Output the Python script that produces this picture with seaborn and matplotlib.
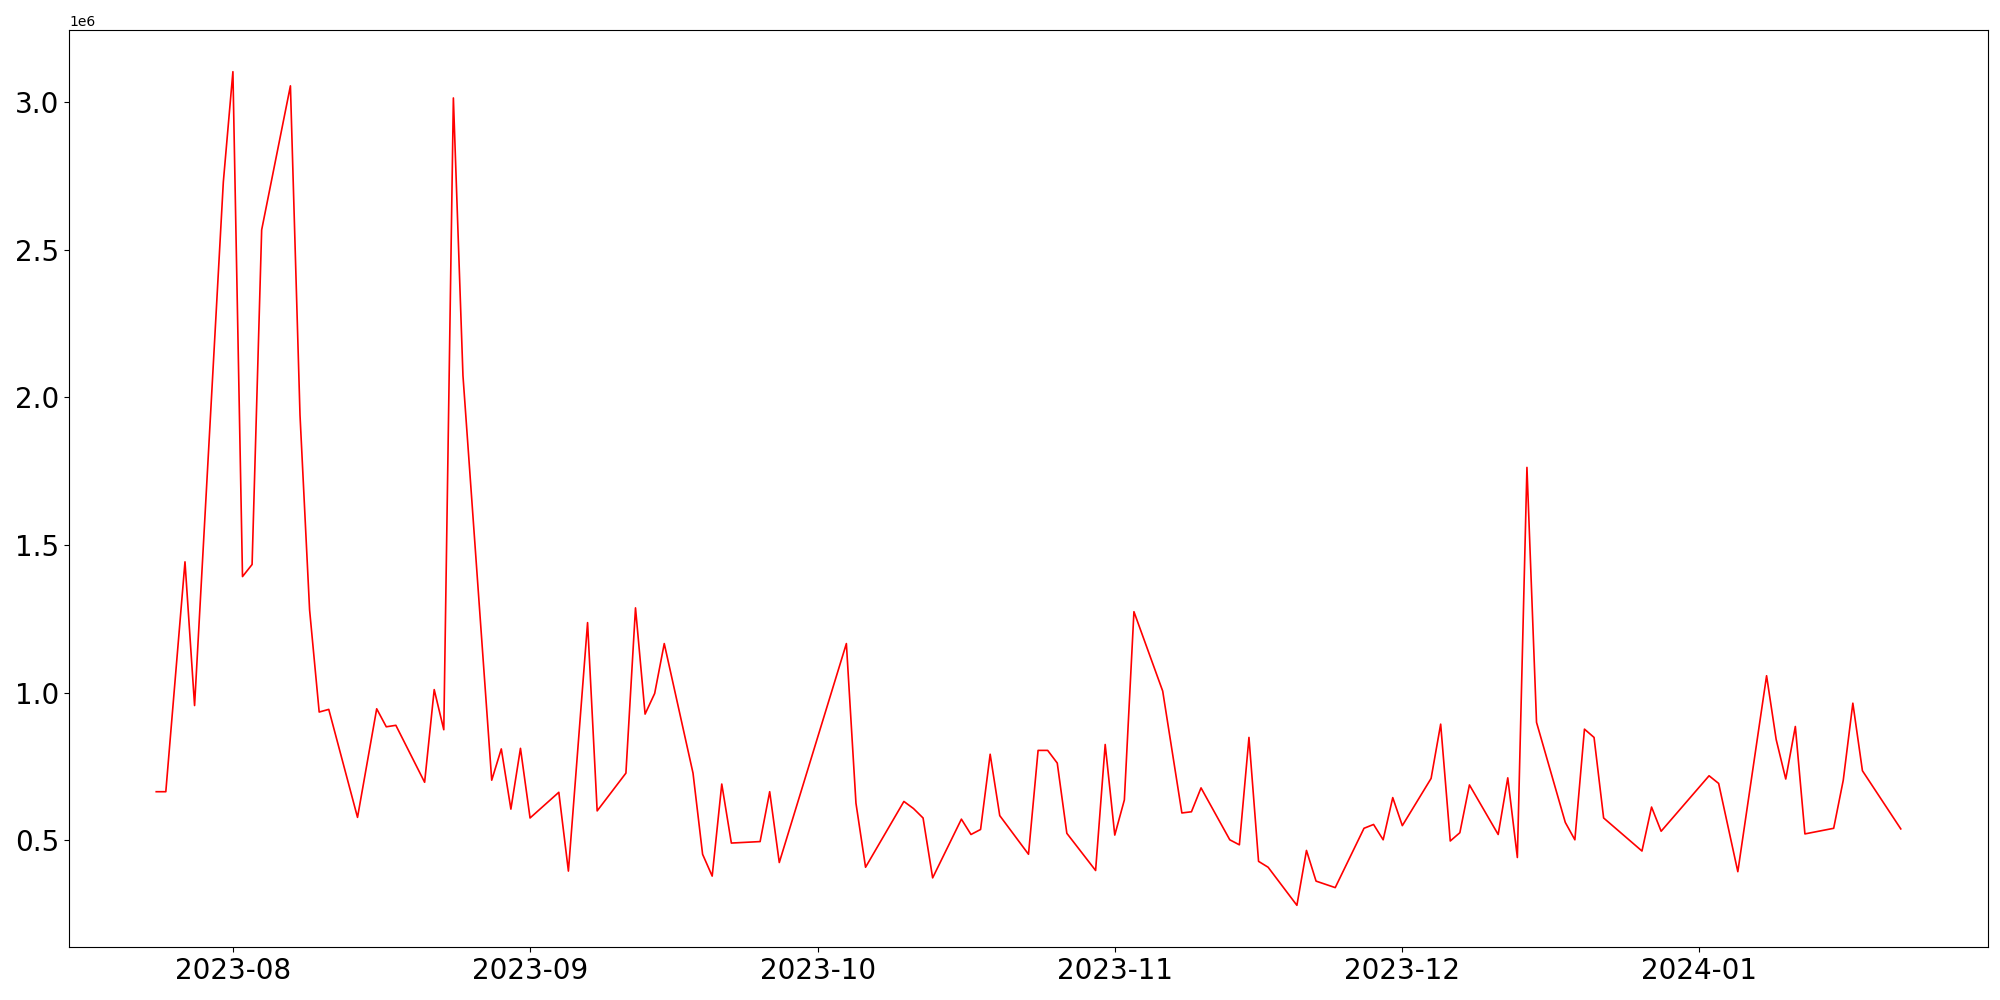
import pandas as pd
import matplotlib.pyplot as plt
import seaborn as sns

# daily values (gaps = missing days)
dates = ["2023-07-24", "2023-07-25", "2023-07-27", "2023-07-28", "2023-07-31",
         "2023-08-01", "2023-08-02", "2023-08-03", "2023-08-04", "2023-08-07",
         "2023-08-08", "2023-08-09", "2023-08-10", "2023-08-11", "2023-08-14",
         "2023-08-16", "2023-08-17", "2023-08-18", "2023-08-21", "2023-08-22",
         "2023-08-23", "2023-08-24", "2023-08-25", "2023-08-28", "2023-08-29",
         "2023-08-30", "2023-08-31", "2023-09-01", "2023-09-04", "2023-09-05",
         "2023-09-07", "2023-09-08", "2023-09-11", "2023-09-12", "2023-09-13",
         "2023-09-14", "2023-09-15", "2023-09-18", "2023-09-19", "2023-09-20",
         "2023-09-21", "2023-09-22", "2023-09-25", "2023-09-26", "2023-09-27",
         "2023-10-04", "2023-10-05", "2023-10-06", "2023-10-10", "2023-10-11",
         "2023-10-12", "2023-10-13", "2023-10-16", "2023-10-17", "2023-10-18",
         "2023-10-19", "2023-10-20", "2023-10-23", "2023-10-24", "2023-10-25",
         "2023-10-26", "2023-10-27", "2023-10-30", "2023-10-31", "2023-11-01",
         "2023-11-02", "2023-11-03", "2023-11-06", "2023-11-08", "2023-11-09",
         "2023-11-10", "2023-11-13", "2023-11-14", "2023-11-15", "2023-11-16",
         "2023-11-17", "2023-11-20", "2023-11-21", "2023-11-22", "2023-11-24",
         "2023-11-27", "2023-11-28", "2023-11-29", "2023-11-30", "2023-12-01",
         "2023-12-04", "2023-12-05", "2023-12-06", "2023-12-07", "2023-12-08",
         "2023-12-11", "2023-12-12", "2023-12-13", "2023-12-14", "2023-12-15",
         "2023-12-18", "2023-12-19", "2023-12-20", "2023-12-21", "2023-12-22",
         "2023-12-26", "2023-12-27", "2023-12-28", "2024-01-02", "2024-01-03",
         "2024-01-05", "2024-01-08", "2024-01-09", "2024-01-10", "2024-01-11",
         "2024-01-12", "2024-01-15", "2024-01-16", "2024-01-17", "2024-01-18",
         "2024-01-22"]

values = [664000, 664000, 1443000, 956000, 2730000,
          3104000, 1393000, 1434000, 2568000, 3056000,
          1940000, 1280000, 934000, 943000, 577000,
          945000, 884000, 889000, 696000, 1010000,
          874000, 3015000, 2074000, 703000, 809000,
          605000, 811000, 575000, 662000, 395000,
          1237000, 599000, 727000, 1287000, 927000,
          997000, 1166000, 727000, 452000, 378000,
          690000, 490000, 495000, 664000, 424000,
          1166000, 625000, 408000, 631000, 607000,
          575000, 372000, 571000, 519000, 536000,
          791000, 583000, 452000, 804000, 804000,
          761000, 523000, 397000, 824000, 517000,
          636000, 1274000, 1005000, 592000, 596000,
          677000, 501000, 484000, 848000, 428000,
          408000, 279000, 465000, 361000, 339000,
          540000, 553000, 501000, 644000, 549000,
          709000, 893000, 497000, 525000, 687000,
          519000, 711000, 441000, 1763000, 899000,
          560000, 501000, 876000, 848000, 575000,
          463000, 612000, 530000, 718000, 692000,
          393000, 1057000, 841000, 707000, 885000,
          521000, 540000, 703000, 964000, 735000,
          538000]

df = pd.DataFrame({"date": pd.to_datetime(dates), "value": values})

fig, ax = plt.subplots(figsize=(20, 10), dpi=100)
sns.lineplot(data=df, x="date", y="value", color="red", linewidth=1.2, ax=ax)
ax.set_xlabel("")
ax.set_ylabel("")
ax.tick_params(axis="both", labelsize=20)
plt.subplots_adjust(left=0.0345, right=0.994, top=0.97, bottom=0.053)
plt.savefig("out.png")
